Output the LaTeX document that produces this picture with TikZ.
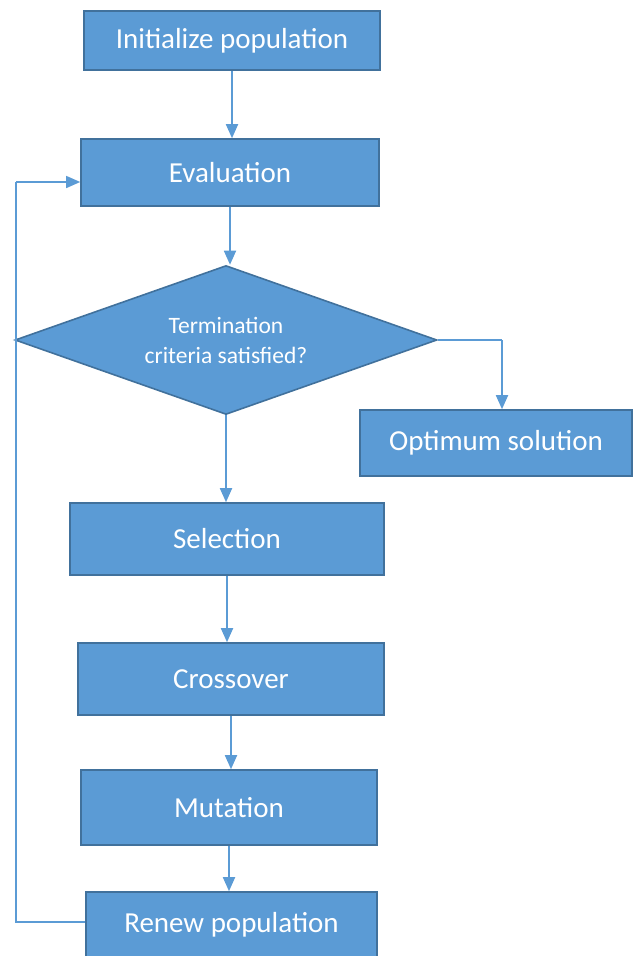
\documentclass[tikz,border=0pt]{standalone}
\usepackage{fontspec}
\setmainfont{Carlito}
\usetikzlibrary{arrows.meta,positioning,shapes.geometric}
\definecolor{boxblue}{RGB}{91,155,213}
\definecolor{edgeblue}{RGB}{65,113,156}
\definecolor{linkblue}{RGB}{91,155,213}

\begin{document}
\begin{tikzpicture}[
  x=1pt,y=-1pt,
  stepbox/.style={rectangle,draw=edgeblue,fill=boxblue,line width=1.6pt,inner sep=0pt,
    text=white,font=\fontsize{29}{34}\selectfont},
  decision/.style={diamond,draw=edgeblue,fill=boxblue,line width=1.6pt,inner sep=0pt,aspect=2.8,
    text=white,align=center,font=\fontsize{23.5}{30}\selectfont},
  arr/.style={-{Triangle[length=14pt,width=12pt]},line width=1.8pt,draw=linkblue},
  loopline/.style={line width=1.4pt,draw=linkblue}
]
  \useasboundingbox (0,0) rectangle (632,956);

  \node[stepbox,minimum width=296pt,minimum height=59pt] (init) at (232,40.5) {Initialize population};
  \node[stepbox,minimum width=298pt,minimum height=67pt] (eval) at (230,172.5) {Evaluation};
  \node[decision,minimum width=422pt,minimum height=149pt] (dia) at (226,340) {Termination\\criteria satisfied?};
  \node[stepbox,minimum width=272pt,minimum height=66pt] (opt) at (496,443) {Optimum solution};
  \node[stepbox,minimum width=314pt,minimum height=72pt] (sel) at (227,539) {Selection};
  \node[stepbox,minimum width=306pt,minimum height=72pt] (xover) at (231,679) {Crossover};
  \node[stepbox,minimum width=296pt,minimum height=75pt] (mut) at (229,807.5) {Mutation};
  \node[stepbox,minimum width=291pt,minimum height=66pt] (renew) at (231.5,925) {Renew population};

  \coordinate (dr) at (502,340);
  \coordinate (lb) at (16,922);
  \coordinate (lt) at (16,182);

  \draw[arr] (init.south) -- (init.south |- eval.north);
  \draw[arr] (eval.south) -- (eval.south |- dia.north);
  \draw[arr] (dia.south) -- (dia.south |- sel.north);
  \draw[arr] (sel.south) -- (sel.south |- xover.north);
  \draw[arr] (xover.south) -- (xover.south |- mut.north);
  \draw[arr] (mut.south) -- (mut.south |- renew.north);

  \draw[loopline] (dia.east) -- (dr);
  \draw[arr] (dr) -- (dr |- opt.north);

  \draw[loopline] (renew.west |- lb) -- (lb) -- (lt);
  \draw[arr,line width=1.4pt] (lt) -- (lt -| eval.west);
\end{tikzpicture}
\end{document}
